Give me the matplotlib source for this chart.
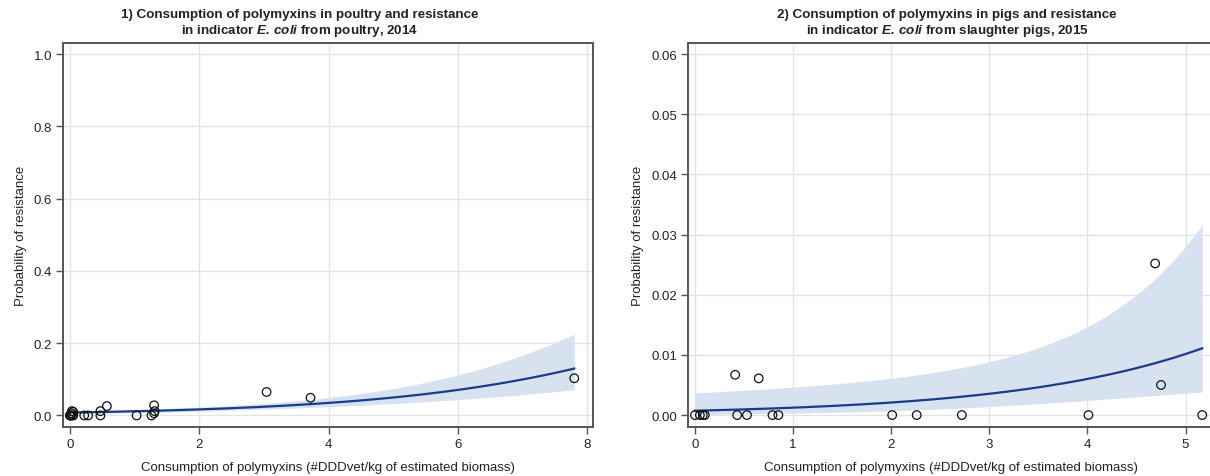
import numpy as np
import matplotlib
matplotlib.use("Agg")
import matplotlib.pyplot as plt
from matplotlib.ticker import FormatStrFormatter

plt.rcParams['font.family'] = ['Liberation Sans', 'DejaVu Sans']
plt.rcParams['mathtext.fontset'] = 'custom'
plt.rcParams['mathtext.rm'] = 'Liberation Sans'
plt.rcParams['mathtext.it'] = 'Liberation Sans:italic'
plt.rcParams['mathtext.bf'] = 'Liberation Sans:bold'
try:
    plt.rcParams['mathtext.bfit'] = 'Liberation Sans:italic:bold'
    BFIT = True
except KeyError:
    BFIT = False

# ---------------- data ----------------
# Panel 1: poultry, 2014
poultry_x = [0, 0, 0.01, 0.02, 0.03, 0.03, 0.05, 0.05, 0.22, 0.28, 0.47, 0.47,
             0.57, 1.03, 1.26, 1.30, 1.31, 1.30, 3.04, 3.72, 7.80]
poultry_y = [0, 0, 0, 0.006, 0.012, 0, 0.010, 0, 0, 0, 0.012, 0,
             0.026, 0, 0, 0.028, 0.012, 0.006, 0.065, 0.049, 0.103]
# logistic fit (logit scale): intercept, slope; band half-width^2 = va + 2*cov*x + vb*x^2
poultry_fit = dict(a=-4.82, b=0.374, va=0.186, cov=-0.0295, vb=0.0118)

# Panel 2: pigs, 2015
pigs_x = [0, 0.05, 0.08, 0.10, 0.41, 0.43, 0.53, 0.65, 0.79, 0.85, 2.01, 2.26,
          2.72, 4.01, 4.69, 4.75, 5.17]
pigs_y = [0, 0, 0, 0, 0.0067, 0, 0, 0.0061, 0, 0, 0, 0,
          0, 0, 0.0252, 0.0050, 0]
pigs_fit = dict(a=-7.23, b=0.53, va=2.66, cov=-0.5148, vb=0.1423)

if BFIT:
    ecoli = r"$\bfit{E.\,coli}$"
else:
    ecoli = r"$\mathbf{E.\,coli}$"
titles = ["1) Consumption of polymyxins in poultry and resistance\nin indicator " + ecoli + " from poultry, 2014",
          "2) Consumption of polymyxins in pigs and resistance\nin indicator " + ecoli + " from slaughter pigs, 2015"]
xlabel = "Consumption of polymyxins (#DDDvet/kg of estimated biomass)"
ylabel = "Probability of resistance"
p1_xticks = [0, 2, 4, 6, 8]
p1_yticks = [0.0, 0.2, 0.4, 0.6, 0.8, 1.0]
p2_xticks = [0, 1, 2, 3, 4, 5]
p2_yticks = [0.00, 0.01, 0.02, 0.03, 0.04, 0.05, 0.06]

# ---------------- style ----------------
LINE = "#1a3a8a"
BAND = "#d7e2f1"
SPINE = "#555555"
GRID = "#e3e3e3"
TXT = "#222222"

W, H = 1210, 477
fig = plt.figure(figsize=(W / 100, H / 100), dpi=100)

def fx(px):
    return px / W

def fy(py):
    return 1 - py / H

bottom, top = 427.5, 44.3
ax1 = fig.add_axes([fx(63.3), fy(bottom), fx(593 - 63.3), (bottom - top) / H])
ax2 = fig.add_axes([fx(688.3), fy(bottom), fx(1214 - 688.3), (bottom - top) / H])


def expit(z):
    return 1 / (1 + np.exp(-z))


def draw(ax, xs, ys, fit, xlim, ylim, xticks, yticks, yfmt):
    xx = np.linspace(0, max(xs), 300)
    lin = fit['a'] + fit['b'] * xx
    hw = np.sqrt(fit['va'] + 2 * fit['cov'] * xx + fit['vb'] * xx ** 2)
    ax.fill_between(xx, expit(lin - hw), expit(lin + hw), color=BAND, lw=0, zorder=1)
    ax.plot(xx, expit(lin), color=LINE, lw=1.6, zorder=3)
    ax.scatter(xs, ys, s=38, facecolors='none', edgecolors='#111111', linewidths=0.9, zorder=4)
    ax.set_xlim(*xlim)
    ax.set_ylim(*ylim)
    ax.set_xticks(xticks)
    ax.set_yticks(yticks)
    ax.yaxis.set_major_formatter(FormatStrFormatter(yfmt))
    ax.grid(True, color=GRID, lw=1.0, zorder=0)
    ax.set_axisbelow(True)
    for s in ax.spines.values():
        s.set_color(SPINE)
        s.set_linewidth(1.4)
    ax.tick_params(direction='out', length=5, width=1.0, color=SPINE,
                   labelsize=9.5, labelcolor=TXT, pad=3)
    ax.set_xlabel(xlabel, fontsize=9.5, color=TXT, labelpad=8)
    ax.set_ylabel(ylabel, fontsize=9.5, color=TXT, labelpad=5)


draw(ax1, poultry_x, poultry_y, poultry_fit, (-0.104, 8.09), (-0.0305, 1.0297),
     p1_xticks, p1_yticks, '%.1f')
draw(ax2, pigs_x, pigs_y, pigs_fit, (-0.068, 5.29), (-0.0019, 0.0618),
     p2_xticks, p2_yticks, '%.2f')

fig.text(fx(300), fy(24), titles[0], ha='center', va='center', fontsize=9.6,
         fontweight='bold', color=TXT, linespacing=1.15)
fig.text(fx(947), fy(24), titles[1], ha='center', va='center', fontsize=9.6,
         fontweight='bold', color=TXT, linespacing=1.15)

fig.savefig("out.png", dpi=100)
